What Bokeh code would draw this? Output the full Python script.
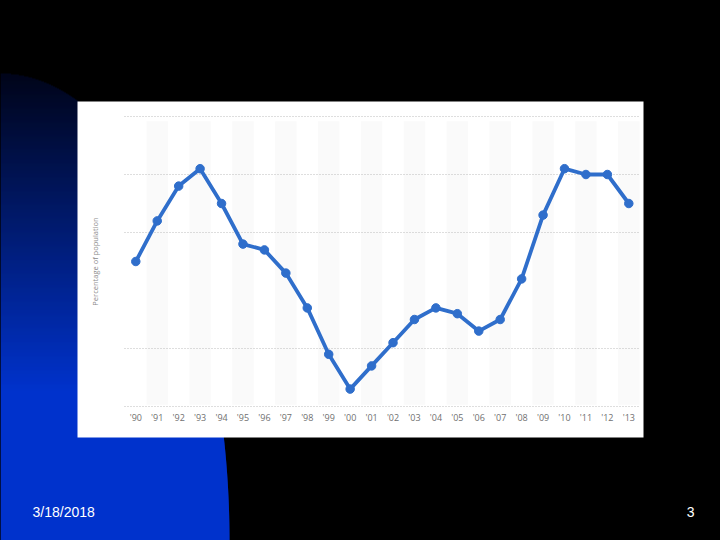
import numpy as np
from bokeh.plotting import figure
from bokeh.models import Range1d, GlobalInlineStyleSheet
from bokeh.core.properties import value
from bokeh.embed import file_html
from bokeh.resources import INLINE

# ---- data (US poverty rate, % of population) ----
years = list(range(1990, 2014))
tick_labels = ["'90", "'91", "'92", "'93", "'94", "'95", "'96", "'97", "'98", "'99",
               "'00", "'01", "'02", "'03", "'04", "'05", "'06", "'07", "'08", "'09",
               "'10", "'11", "'12", "'13"]
rate = [13.5, 14.2, 14.8, 15.1, 14.5, 13.8, 13.7, 13.3, 12.7, 11.9,
        11.3, 11.7, 12.1, 12.5, 12.7, 12.6, 12.3, 12.5, 13.2, 14.3,
        15.1, 15.0, 15.0, 14.5]
grid_values = [11, 12, 14, 15, 16]
y_title = "Percentage of population"
date_text = "3/18/2018"
page_text = "3"

# ---- layout constants (slide pixel space) ----
W, H = 720, 540
X0, DX = 135.3, 21.435      # pixel of first year, pixels per year
Y15, DY = 174.0, 58.0       # pixel of value 15, pixels per unit

p = figure(width=W, height=H, x_range=Range1d(0, W), y_range=Range1d(H, 0),
           output_backend="svg", toolbar_location=None, min_border=0,
           x_axis_location=None, y_axis_location=None,
           background_fill_color="black", border_fill_color="black",
           outline_line_color=None)
p.grid.visible = False
p.stylesheets = [GlobalInlineStyleSheet(css="html,body{background:#000;margin:0;overflow:hidden;}")]

p.extra_x_ranges = {"yr": Range1d(years[0] + (0 - X0) / DX, years[0] + (W - X0) / DX)}
p.extra_y_ranges = {"pct": Range1d(15 + (Y15 - H) / DY, 15 + (Y15 - 0) / DY)}

# ---- slide decoration: quarter-ellipse with vertical gradient ----
cx, cy, rx, ry = 0.0, 540.0, 229.0, 467.0
ys = np.arange(73, 541, 1.0)
lefts, rights, tops, bottoms, cols = [], [], [], [], []
c_top = np.array([0, 5, 26]); c_bot = np.array([0, 51, 204])
for yy in ys:
    t = (cy - (yy + 0.5)) / ry
    if t >= 1:
        continue
    xr = cx + rx * np.sqrt(max(0.0, 1 - t * t))
    f = min(1.0, max(0.0, (yy - 73) / (390 - 73)))
    c = (c_top + (c_bot - c_top) * f).astype(int)
    lefts.append(0); rights.append(xr); tops.append(yy); bottoms.append(yy + 1.6)
    cols.append("#%02x%02x%02x" % tuple(c))
p.quad(left=lefts, right=rights, top=tops, bottom=bottoms, fill_color=cols, line_color=None)

# ---- chart image background ----
p.quad(left=[77], right=[643], top=[101], bottom=[437], fill_color="white", line_color=None)

# alternating column bands (odd years)
odd = [y for y in years if y % 2 == 1]
p.quad(left=[y - 0.5 for y in odd], right=[y + 0.5 for y in odd],
       top=15.92, bottom=11.03, fill_color="#fafafa", line_color=None,
       x_range_name="yr", y_range_name="pct")

# dotted gridlines
p.segment(x0=124, x1=640, y0=grid_values, y1=grid_values, line_color="#bdbdbd",
          line_width=1, line_dash="1 2", y_range_name="pct")

# line + markers
p.line(years, rate, line_color="#2f6ecb", line_width=3.8,
       x_range_name="yr", y_range_name="pct")
p.scatter(years, rate, size=8.5, fill_color="#2f6ecb", line_color="#2f6ecb",
          x_range_name="yr", y_range_name="pct")

# x tick labels
p.text(x=years, y=[417] * len(years), text=tick_labels, x_range_name="yr",
       text_align="center", text_baseline="middle", text_font=value("Open Sans"),
       text_font_size="9px", text_color="#707070")

# y axis title
p.text(x=[94], y=[261], text=[y_title], angle=np.pi / 2, text_align="center",
       text_baseline="middle", text_font=value("Open Sans"), text_font_size="7.5px",
       text_color="#8a8a8a")

# slide footer texts
p.text(x=[32], y=[511], text=[date_text], text_align="left", text_baseline="middle",
       text_font=value("Liberation Sans"), text_font_size="14px", text_color="white")
p.text(x=[694], y=[511], text=[page_text], text_align="right", text_baseline="middle",
       text_font=value("Liberation Sans"), text_font_size="14px", text_color="white")

open("out.html", "w").write(file_html(p, INLINE))
